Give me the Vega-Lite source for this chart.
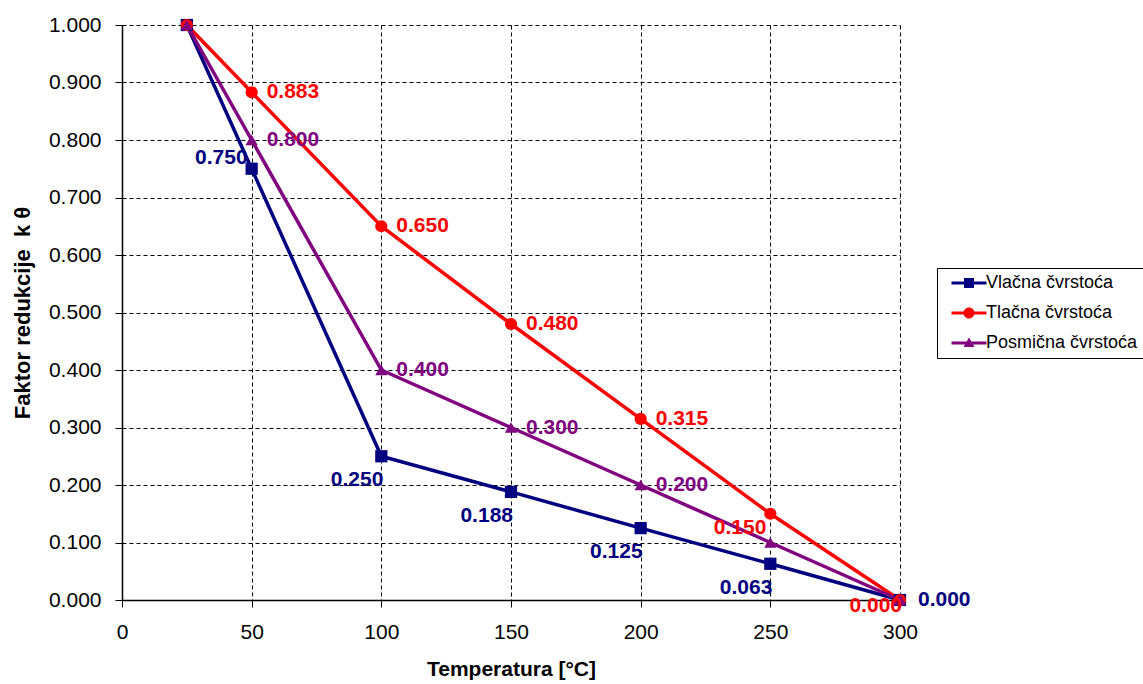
{
  "$schema": "https://vega.github.io/schema/vega-lite/v6.json",
  "width": 778,
  "height": 575,
  "autosize": {"type": "none"},
  "padding": {"left": 122, "top": 25, "right": 243, "bottom": 84},
  "background": "white",
  "config": {
    "view": {"stroke": null},
    "font": "Liberation Sans",
    "axis": {
      "domainColor": "black", "domainWidth": 1.5, "tickColor": "black", "tickSize": 7,
      "labelColor": "black", "labelFont": "Liberation Sans", "labelFontSize": 21, "labelPadding": 14, "labelFlush": false,
      "grid": true, "gridColor": "black", "gridDash": [4, 3], "gridWidth": 1, "gridOpacity": 1,
      "titleColor": "black", "titleFont": "Liberation Sans", "titleFontSize": 21, "titleFontWeight": "bold"
    }
  },
  "data": {"values": [
    {"series": "Vlačna čvrstoća", "t": 25, "k": 1.0},
    {"series": "Vlačna čvrstoća", "t": 50, "k": 0.75},
    {"series": "Vlačna čvrstoća", "t": 100, "k": 0.25},
    {"series": "Vlačna čvrstoća", "t": 150, "k": 0.188},
    {"series": "Vlačna čvrstoća", "t": 200, "k": 0.125},
    {"series": "Vlačna čvrstoća", "t": 250, "k": 0.063},
    {"series": "Vlačna čvrstoća", "t": 300, "k": 0.0},
    {"series": "Tlačna čvrstoća", "t": 25, "k": 1.0},
    {"series": "Tlačna čvrstoća", "t": 50, "k": 0.883},
    {"series": "Tlačna čvrstoća", "t": 100, "k": 0.65},
    {"series": "Tlačna čvrstoća", "t": 150, "k": 0.48},
    {"series": "Tlačna čvrstoća", "t": 200, "k": 0.315},
    {"series": "Tlačna čvrstoća", "t": 250, "k": 0.15},
    {"series": "Tlačna čvrstoća", "t": 300, "k": 0.0},
    {"series": "Posmična čvrstoća", "t": 25, "k": 1.0},
    {"series": "Posmična čvrstoća", "t": 50, "k": 0.8},
    {"series": "Posmična čvrstoća", "t": 100, "k": 0.4},
    {"series": "Posmična čvrstoća", "t": 150, "k": 0.3},
    {"series": "Posmična čvrstoća", "t": 200, "k": 0.2},
    {"series": "Posmična čvrstoća", "t": 250, "k": 0.1},
    {"series": "Posmična čvrstoća", "t": 300, "k": 0.0}
  ]},
  "encoding": {
    "x": {"field": "t", "type": "quantitative", "scale": {"domain": [0, 300], "nice": false},
      "axis": {"values": [0, 50, 100, 150, 200, 250, 300], "title": "Temperatura [°C]", "titlePadding": 16}},
    "y": {"field": "k", "type": "quantitative", "scale": {"domain": [0, 1], "nice": false},
      "axis": {"values": [0, 0.1, 0.2, 0.3, 0.4, 0.5, 0.6, 0.7, 0.8, 0.9, 1.0], "format": ".3f", "title": "Faktor redukcije\u00a0\u00a0k\u00a0θ", "titlePadding": 14, "titleFontSize": 22}},
    "color": {"field": "series", "type": "nominal", "title": null,
      "scale": {"domain": ["Vlačna čvrstoća", "Tlačna čvrstoća", "Posmična čvrstoća"], "range": ["#000080", "#FF0000", "#800080"]},
      "legend": null}
  },
  "resolve": {"scale": {"shape": "independent"}, "legend": {"shape": "independent", "color": "independent"}},
  "layer": [
    {"mark": {"type": "line", "strokeWidth": 3.5}, "encoding": {"order": {"field": "t", "type": "quantitative"}}},
    {"mark": {"type": "point", "filled": true, "opacity": 1, "size": 150},
      "encoding": {
        "shape": {"field": "series", "type": "nominal",
          "scale": {"domain": ["Vlačna čvrstoća", "Tlačna čvrstoća", "Posmična čvrstoća"], "range": ["square", "circle", "triangle-up"]},
          "legend": null}
      }},
    {"transform": [{"filter": "datum.t < 0"}],
      "mark": {"type": "point", "filled": true, "opacity": 1, "strokeWidth": 0},
      "encoding": {
        "color": {"field": "series", "type": "nominal", "title": null,
          "legend": {
            "orient": "none", "legendX": 815, "legendY": 243, "title": null,
            "strokeColor": "black", "fillColor": "white", "padding": 6,
            "labelFont": "Liberation Sans", "labelFontSize": 18, "labelColor": "black",
            "symbolSize": 100, "symbolOffset": 17, "labelOffset": 8, "rowPadding": 12,
            "symbolStrokeWidth": 0, "symbolOpacity": 1
          }},
        "shape": {"field": "series", "type": "nominal", "title": null,
          "scale": {"domain": ["Vlačna čvrstoća", "Tlačna čvrstoća", "Posmična čvrstoća"],
            "range": ["M-3.5,-0.3H3.5V0.3H-3.5Z M-1,-1H1V1H-1Z", "M-3.5,-0.3H3.5V0.3H-3.5Z M1.1,0A1.1,1.1,0,1,1,-1.1,0A1.1,1.1,0,1,1,1.1,0Z", "M-3.5,-0.3H3.5V0.3H-3.5Z M0,-1.1L1.1,0.8L-1.1,0.8Z"]},
          "legend": {
            "orient": "none", "legendX": 815, "legendY": 243, "title": null,
            "strokeColor": "black", "fillColor": "white", "padding": 6,
            "labelFont": "Liberation Sans", "labelFontSize": 18, "labelColor": "black",
            "symbolSize": 100, "symbolOffset": 17, "labelOffset": 8, "rowPadding": 12,
            "symbolStrokeWidth": 0, "symbolOpacity": 1
          }}
      }},
    {"transform": [{"filter": "datum.series !== 'Vlačna čvrstoća' && datum.t >= 50 && datum.t <= 200"}],
      "mark": {"type": "text", "align": "left", "baseline": "middle", "dx": 15, "font": "Liberation Sans", "fontWeight": "bold", "fontSize": 21},
      "encoding": {"text": {"field": "k", "type": "quantitative", "format": ".3f"}}},
    {"transform": [{"filter": "datum.series === 'Tlačna čvrstoća' && datum.t === 250"}],
      "mark": {"type": "text", "align": "right", "baseline": "middle", "dx": -4, "dy": 14, "font": "Liberation Sans", "fontWeight": "bold", "fontSize": 21},
      "encoding": {"text": {"field": "k", "type": "quantitative", "format": ".3f"}}},
    {"transform": [{"filter": "datum.series === 'Tlačna čvrstoća' && datum.t === 300"}],
      "mark": {"type": "text", "align": "right", "baseline": "middle", "dx": 2, "dy": 6, "font": "Liberation Sans", "fontWeight": "bold", "fontSize": 21},
      "encoding": {"text": {"field": "k", "type": "quantitative", "format": ".3f"}}},
    {"transform": [{"filter": "datum.series === 'Vlačna čvrstoća' && datum.t === 50"}],
      "mark": {"type": "text", "align": "right", "baseline": "middle", "dx": -4, "dy": -11, "font": "Liberation Sans", "fontWeight": "bold", "fontSize": 21},
      "encoding": {"text": {"field": "k", "type": "quantitative", "format": ".3f"}}},
    {"transform": [{"filter": "datum.series === 'Vlačna čvrstoća' && datum.t >= 100 && datum.t <= 250"}],
      "mark": {"type": "text", "align": "right", "baseline": "middle", "dx": 2, "dy": 24, "font": "Liberation Sans", "fontWeight": "bold", "fontSize": 21},
      "encoding": {"text": {"field": "k", "type": "quantitative", "format": ".3f"}}},
    {"transform": [{"filter": "datum.series === 'Vlačna čvrstoća' && datum.t === 300"}],
      "mark": {"type": "text", "align": "left", "baseline": "middle", "dx": 18, "font": "Liberation Sans", "fontWeight": "bold", "fontSize": 21},
      "encoding": {"text": {"field": "k", "type": "quantitative", "format": ".3f"}}}
  ]
}
